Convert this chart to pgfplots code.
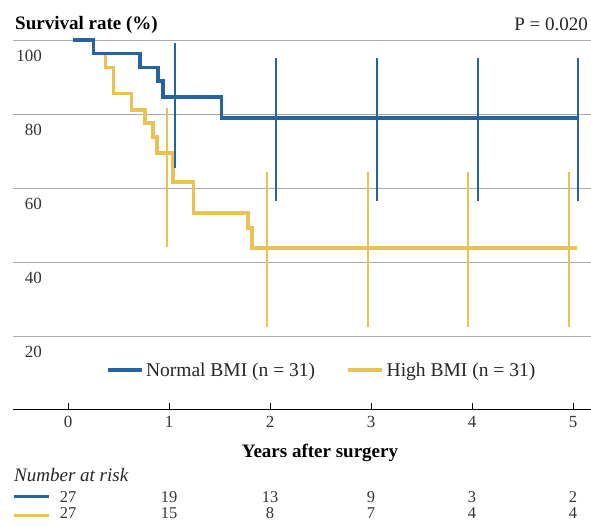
\documentclass[border=0pt]{standalone}
\usepackage{pgfplots}
\pgfplotsset{compat=1.18}
\usepackage{fontspec}
\setmainfont{Liberation Serif}
\definecolor{nblue}{RGB}{36,100,160}
\definecolor{hyel}{RGB}{232,194,82}
\tikzset{risk/.style={anchor=base, inner sep=0pt, font=\fontsize{16.5}{18}\selectfont, text=black!80}}
\begin{document}
\begin{tikzpicture}[x=1pt,y=1pt]
\path[use as bounding box] (0,0) rectangle (591,526);
\begin{axis}[
  at={(13pt,116pt)}, anchor=south west, scale only axis,
  width=578pt, height=370pt,
  xmin=-0.545, xmax=5.178, ymin=0, ymax=100,
  clip=false,
  axis x line=bottom, axis y line=left, axis line style={-},
  x axis line style={black, line width=1pt},
  y axis line style={draw=none},
  xtick={0,1,2,3,4,5}, ytick={20,40,60,80,100},
  tick align=inside, major tick length=7pt,
  xtick style={black, line width=0.9pt},
  ytick style={draw=none},
  ymajorgrids, grid style={gray!65, line width=0.8pt},
  /pgf/number format/assume math mode=true,
  ticklabel style={font=\fontsize{17}{18}\selectfont, text=black!80},
  xticklabel style={yshift=-3pt},
  yticklabel style={inner sep=0pt, anchor=east, xshift=29pt, yshift=-16pt},
  legend style={draw=none, fill=none, inner sep=0pt, outer sep=0pt,
    legend columns=2, at={(axis description cs:0.161,0.108)}, anchor=west,
    font=\fontsize{19.5}{22}\selectfont, nodes={inner sep=2.5pt, text=black!85},
    /tikz/every even column/.append style={column sep=29pt}},
  legend image code/.code={\draw[#1] (0pt,0pt) -- (34pt,0pt);},
]
% High BMI survival curve
\addplot[hyel, line width=3.5pt, const plot, forget plot] coordinates {
  (0.05,100) (0.25,96.3) (0.37,92.6) (0.45,85.5) (0.63,81.1) (0.76,77.6)
  (0.84,73.8) (0.88,69.5) (1.04,61.6) (1.24,53.2) (1.78,49.2) (1.82,43.8) (5.04,43.8)};
% High BMI confidence intervals
\addplot[hyel, line width=1.3pt, forget plot, unbounded coords=jump] coordinates {
  (0.98,81.6) (0.98,44.1) (0.98,nan)
  (1.97,64.3) (1.97,22.4) (1.97,nan)
  (2.97,64.3) (2.97,22.4) (2.97,nan)
  (3.96,64.3) (3.96,22.4) (3.96,nan)
  (4.96,64.3) (4.96,22.4)};
% Normal BMI survival curve
\addplot[nblue, line width=3.5pt, const plot] coordinates {
  (0.05,100) (0.25,96.3) (0.71,92.6) (0.89,88.9) (0.94,84.6) (1.52,78.9) (5.05,78.9)};
\addlegendentry{Normal BMI (n = 31)}
\addlegendimage{hyel, line width=3.5pt}
\addlegendentry{High BMI (n = 31)}
% Normal BMI confidence intervals
\addplot[nblue, line width=1.3pt, forget plot, unbounded coords=jump] coordinates {
  (1.06,99.2) (1.06,65.4) (1.06,nan)
  (2.06,95.1) (2.06,56.5) (2.06,nan)
  (3.06,95.1) (3.06,56.5) (3.06,nan)
  (4.06,95.1) (4.06,56.5) (4.06,nan)
  (5.05,95.1) (5.05,56.5)};
% Number at risk
\node[risk] at (axis cs:0,-24.9) {27};
\node[risk] at (axis cs:1,-24.9) {19};
\node[risk] at (axis cs:2,-24.9) {13};
\node[risk] at (axis cs:3,-24.9) {9};
\node[risk] at (axis cs:4,-24.9) {3};
\node[risk] at (axis cs:5,-24.9) {2};
\node[risk] at (axis cs:0,-29.2) {27};
\node[risk] at (axis cs:1,-29.2) {15};
\node[risk] at (axis cs:2,-29.2) {8};
\node[risk] at (axis cs:3,-29.2) {7};
\node[risk] at (axis cs:4,-29.2) {4};
\node[risk] at (axis cs:5,-29.2) {4};
\end{axis}
\node[anchor=base west, inner sep=0pt, font=\bfseries\fontsize{19}{22}\selectfont] at (15,496) {Survival rate (\%)};
\node[anchor=base east, inner sep=0pt, font=\fontsize{19}{22}\selectfont, text=black!85] at (588,495) {P = 0.020};
\node[anchor=base, inner sep=0pt, font=\bfseries\fontsize{19}{22}\selectfont] at (320,68) {Years after surgery};
\node[anchor=base west, inner sep=0pt, font=\itshape\fontsize{19}{22}\selectfont, text=black!85] at (14,44) {Number at risk};
\draw[nblue, line width=3pt] (14,29) -- (49,29);
\draw[hyel, line width=3pt] (14,10) -- (49,10);
\end{tikzpicture}
\end{document}
